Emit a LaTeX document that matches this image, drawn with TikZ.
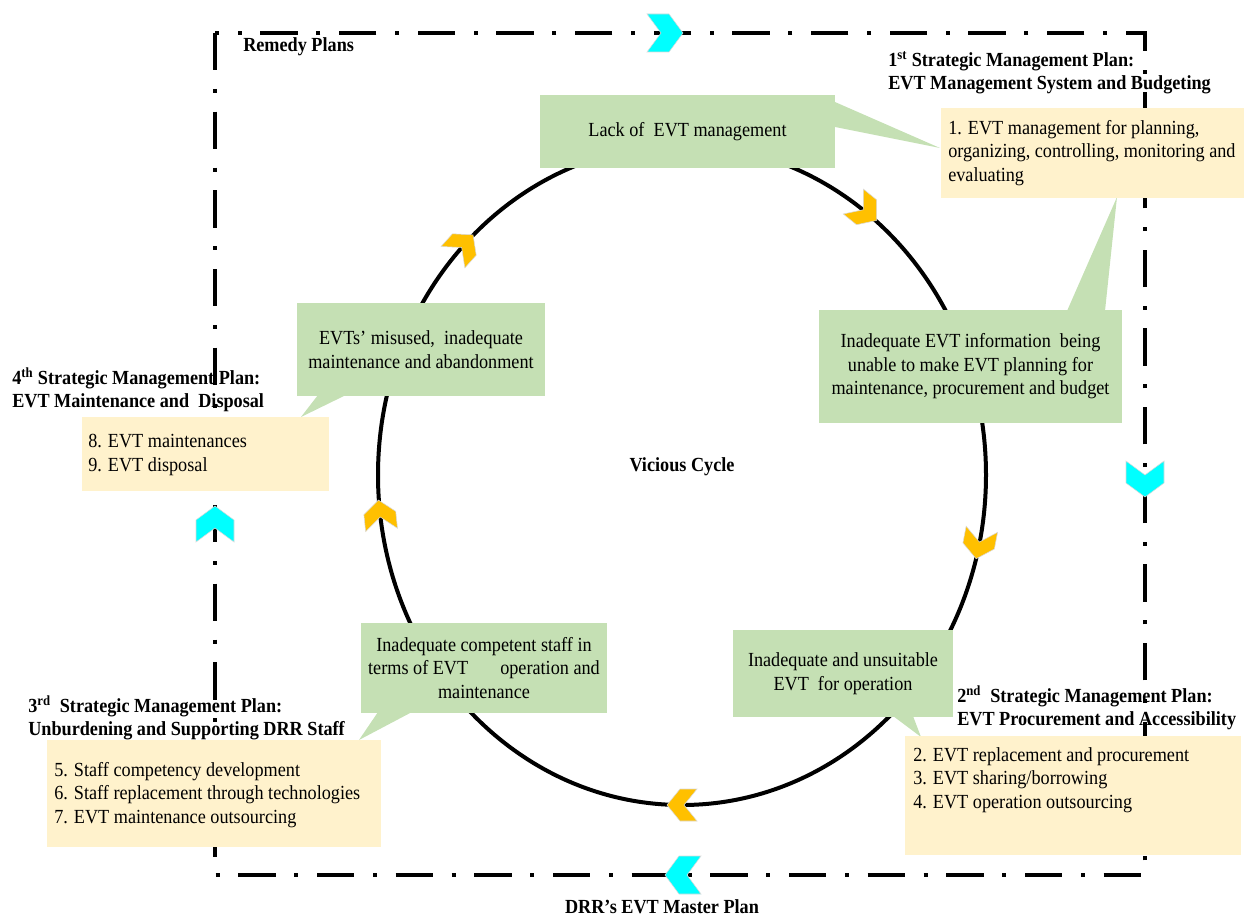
\documentclass[tikz,border=0pt]{standalone}
\usepackage{fontspec}
\setmainfont{Liberation Serif}[FakeStretch=0.91]
\usetikzlibrary{fit}
\definecolor{gfill}{HTML}{C5E0B4}
\definecolor{yfill}{HTML}{FFF2CC}
\definecolor{och}{HTML}{FFC000}
\definecolor{cch}{HTML}{00FFFF}
\newcommand\dfont{\fontsize{15}{17.6}\selectfont}
\tikzset{
  gbox/.style={fill=gfill, inner sep=0pt, align=center, font=\dfont},
  ybox/.style={fill=yfill, inner sep=0pt},
  ytext/.style={anchor=west, align=left, font=\dfont, inner sep=0pt},
  ttl/.style={anchor=west, align=left, font=\dfont\bfseries, inner sep=0pt},
  tailshape/.style={fill=gfill},
  mpframe/.style={line width=3pt, dash pattern=on 28pt off 14pt on 3pt off 14pt},
  cycline/.style={line width=3pt},
  orch/.pic={\fill[och, draw=gray!30, line width=0.4pt] (-15,-16) -- (2,-16) -- (15,0) -- (2,16) -- (-15,16) -- (-2,0) -- cycle;},
  cych/.pic={\fill[cch, draw=gray!30, line width=0.4pt] (-18,-19) -- (4,-19) -- (18,0) -- (4,19) -- (-18,19) -- (-4,0) -- cycle;}
}
\begin{document}
\begin{tikzpicture}[x=0.75pt,y=-0.75pt]
\useasboundingbox (0,0) rectangle (1246,917);

% titles
\node[ttl] (tr) at (243,47) {Remedy Plans};
\node[ttl] (t1) at (888,73) {1\textsuperscript{st} Strategic Management Plan:\\EVT Management System and Budgeting};
\node[ttl] (t2) at (957,708) {2\textsuperscript{nd}\ \ Strategic Management Plan:\\EVT Procurement and Accessibility};
\node[ttl] (t3) at (28,718) {3\textsuperscript{rd}\ \ Strategic Management Plan:\\Unburdening and Supporting DRR Staff};
\node[ttl] (t4) at (12,390) {4\textsuperscript{th} Strategic Management Plan:\\EVT Maintenance and\ \ Disposal};
\node[font=\dfont\bfseries, inner sep=0pt] (tm) at (662,907) {DRR’s EVT Master Plan};

% frame
\draw[mpframe] (215,33) rectangle (1145,875);

% vicious cycle
\coordinate (c) at (682,475);
\draw[cycline] (c) ellipse [x radius=304, y radius=330];
\node[font=\dfont\bfseries, inner sep=0pt] (vc) at (682,467) {Vicious Cycle};

% green callouts
\node[gbox, minimum width=295*0.75pt, minimum height=73*0.75pt] (g1) at (687.5,131.5) {Lack of\ \ EVT management};
\fill[tailshape] (835,102) -- (940,148) -- (835,127) -- cycle;

\node[gbox, minimum width=303*0.75pt, minimum height=113*0.75pt] (g2) at (970.5,366.5) {Inadequate EVT information\ \ being\\unable to make EVT planning for\\maintenance, procurement and budget};
\fill[tailshape] (1067,311) -- (1117,197) -- (1105,311) -- cycle;

\node[gbox, minimum width=248*0.75pt, minimum height=93*0.75pt] (g3) at (421,349.5) {EVTs’ misused,\ \ inadequate\\maintenance and abandonment};
\fill[tailshape] (318,395) -- (301,417) -- (346,395) -- cycle;

\node[gbox, minimum width=246*0.75pt, minimum height=90*0.75pt] (g4) at (484,668) {Inadequate competent staff in\\terms of EVT\hspace{1.6em}operation and\\maintenance};
\fill[tailshape] (378,712) -- (359,740) -- (412,712) -- cycle;

\node[gbox, minimum width=220*0.75pt, minimum height=87*0.75pt] (g5) at (843,673.5) {Inadequate and unsuitable\\EVT\ \ for operation};
\fill[tailshape] (893,716) -- (921,737) -- (913,716) -- cycle;

% yellow boxes
\node[ybox, fit={(941,108) (1244,198)}] (y1) {};
\node[ytext] (y1t) at (948,153) {1. EVT management for planning,\\organizing, controlling, monitoring and\\evaluating};

\node[ybox, fit={(905,736) (1241,855)}] (y2) {};
\node[ytext] (y2t) at (913,780) {2. EVT replacement and procurement\\3. EVT sharing/borrowing\\4. EVT operation outsourcing};

\node[ybox, fit={(47,740) (381,847)}] (y3) {};
\node[ytext] (y3t) at (54,795) {5. Staff competency development\\6. Staff replacement through technologies\\7. EVT maintenance outsourcing};

\node[ybox, fit={(82,417) (329,491)}] (y4) {};
\node[ytext] (y4t) at (88,455) {8. EVT maintenances\\9. EVT disposal};

% orange chevrons on the cycle
\pic[rotate=-39] at (865,211) {orch};
\pic[rotate=-101] at (979,544) {orch};
\pic[rotate=180] at (682,805) {orch};
\pic[rotate=96] at (380,515) {orch};
\pic[rotate=48] at (463,246) {orch};

% cyan chevrons on the frame
\pic at (665,33) {cych};
\pic[rotate=-90] at (1145,479) {cych};
\pic[rotate=180] at (683,875) {cych};
\pic[rotate=90] at (215,524) {cych};
\end{tikzpicture}
\end{document}
